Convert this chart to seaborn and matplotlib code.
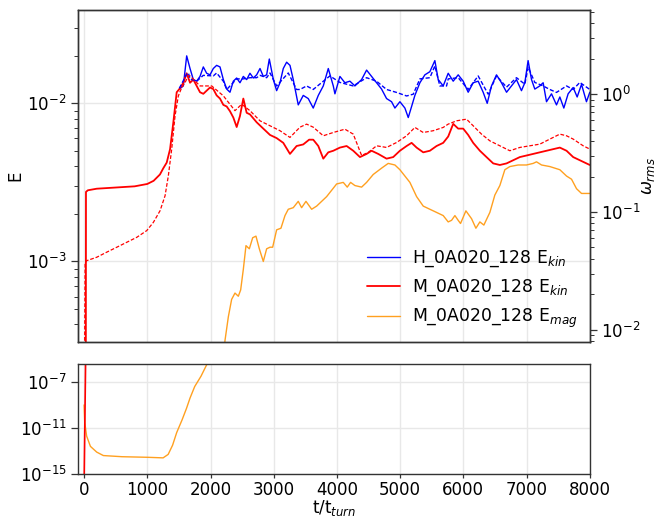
import numpy as np
import pandas as pd
import matplotlib
matplotlib.use("Agg")
import matplotlib.pyplot as plt
from matplotlib.ticker import LogLocator, FixedLocator, NullFormatter, NullLocator
import seaborn as sns

# ---- time series (log10 values) ----
# M_0A020_128 kinetic energy
t_mkin = [0, 30, 60, 200, 400, 600, 800, 1000, 1100, 1200, 1254, 1307, 1360, 1412,
          1465, 1507, 1570, 1623, 1676, 1728, 1781, 1834, 1886, 1939, 1992, 2044,
          2097, 2150, 2203, 2256, 2308, 2361, 2414, 2466, 2519, 2572, 2624, 2730,
          2835, 2941, 3046, 3151, 3257, 3362, 3467, 3560, 3625, 3705, 3784, 3863,
          3942, 4047, 4153, 4258, 4364, 4469, 4548, 4653, 4785, 4890, 4996, 5102,
          5181, 5260, 5365, 5470, 5576, 5681, 5760, 5839, 5918, 5997, 6076, 6155,
          6261, 6366, 6472, 6577, 6683, 6788, 6893, 6999, 7104, 7209, 7315, 7420,
          7526, 7632, 7737, 7842, 7947, 8000]
lg_mkin = [-16.0, -2.56, -2.55, -2.54, -2.535, -2.53, -2.525, -2.51, -2.49, -2.45,
           -2.41, -2.375, -2.29, -2.12, -1.93, -1.91, -1.87, -1.81, -1.87, -1.85,
           -1.89, -1.93, -1.94, -1.92, -1.90, -1.91, -1.95, -1.97, -2.01, -2.02,
           -2.05, -2.09, -2.15, -2.08, -1.97, -2.06, -2.07, -2.12, -2.16, -2.20,
           -2.22, -2.25, -2.32, -2.27, -2.26, -2.23, -2.23, -2.27, -2.35, -2.31,
           -2.30, -2.28, -2.27, -2.30, -2.34, -2.32, -2.30, -2.32, -2.35, -2.34,
           -2.30, -2.27, -2.25, -2.28, -2.31, -2.30, -2.27, -2.25, -2.21, -2.13,
           -2.16, -2.16, -2.20, -2.25, -2.30, -2.34, -2.38, -2.39, -2.38, -2.36,
           -2.34, -2.33, -2.32, -2.31, -2.30, -2.29, -2.28, -2.30, -2.34, -2.36,
           -2.38, -2.39]

# H_0A020_128 kinetic energy
t_hkin = [1507, 1570, 1623, 1676, 1728, 1781, 1834, 1886, 1939, 1992, 2044, 2097,
          2150, 2203, 2256, 2308, 2361, 2414, 2466, 2519, 2572, 2624, 2677, 2730,
          2783, 2835, 2888, 2930, 2994, 3046, 3099, 3151, 3204, 3257, 3309, 3388,
          3467, 3546, 3625, 3705, 3784, 3863, 3942, 3968, 4047, 4126, 4205, 4284,
          4390, 4469, 4548, 4627, 4706, 4785, 4864, 4917, 4996, 5075, 5128, 5181,
          5233, 5312, 5391, 5470, 5549, 5602, 5681, 5760, 5839, 5918, 5997, 6076,
          6155, 6234, 6313, 6377, 6445, 6524, 6603, 6683, 6761, 6840, 6919, 6972,
          7024, 7078, 7130, 7209, 7262, 7315, 7394, 7473, 7526, 7589, 7657, 7737,
          7800, 7869, 7947, 8000]
lg_hkin = [-1.91, -1.89, -1.70, -1.78, -1.85, -1.86, -1.83, -1.77, -1.81, -1.82,
           -1.78, -1.76, -1.77, -1.85, -1.91, -1.93, -1.86, -1.84, -1.87, -1.83,
           -1.85, -1.81, -1.84, -1.82, -1.78, -1.83, -1.82, -1.72, -1.85, -1.92,
           -1.87, -1.78, -1.74, -1.76, -1.85, -2.01, -1.95, -1.97, -2.03, -1.95,
           -1.89, -1.78, -1.89, -1.94, -1.83, -1.87, -1.86, -1.89, -1.85, -1.79,
           -1.83, -1.87, -1.91, -1.97, -1.99, -2.03, -1.99, -2.03, -2.09, -2.02,
           -1.95, -1.87, -1.82, -1.80, -1.73, -1.85, -1.89, -1.81, -1.86, -1.82,
           -1.86, -1.93, -1.87, -1.86, -1.93, -2.00, -1.89, -1.82, -1.87, -1.93,
           -1.89, -1.85, -1.92, -1.87, -1.73, -1.85, -1.91, -1.89, -1.87, -1.99,
           -1.94, -2.01, -1.96, -2.03, -1.94, -1.90, -1.96, -1.88, -1.99, -1.93]

# M_0A020_128 magnetic energy
t_mmag = [0, 10, 40, 100, 200, 305, 600, 1000, 1250, 1330, 1400, 1465, 1550, 1620,
          1676, 1750, 1850, 1940, 2050, 2150, 2229, 2282, 2334, 2387, 2440, 2477,
          2519, 2561, 2614, 2667, 2719, 2772, 2835, 2888, 2941, 2983, 3046, 3114,
          3178, 3230, 3309, 3388, 3441, 3510, 3600, 3679, 3758, 3837, 3916, 3995,
          4100, 4163, 4216, 4284, 4390, 4469, 4574, 4706, 4811, 4917, 4996, 5075,
          5154, 5260, 5365, 5470, 5576, 5681, 5760, 5813, 5866, 5918, 5955, 6040,
          6130, 6198, 6261, 6324, 6419, 6498, 6577, 6656, 6735, 6866, 6998, 7104,
          7157, 7236, 7368, 7526, 7632, 7711, 7790, 7869, 7974, 8000]
lg_mmag = [-9.0, -10.5, -11.7, -12.6, -13.1, -13.4, -13.5, -13.55, -13.6, -13.3,
           -12.5, -11.4, -10.3, -9.3, -8.4, -7.4, -6.5, -5.5, -4.6, -3.95, -3.50,
           -3.35, -3.24, -3.20, -3.22, -3.18, -3.05, -2.90, -2.92, -2.85, -2.84,
           -2.92, -3.00, -2.92, -2.91, -2.91, -2.80, -2.79, -2.71, -2.67, -2.66,
           -2.62, -2.66, -2.62, -2.67, -2.65, -2.62, -2.59, -2.55, -2.51, -2.50,
           -2.53, -2.50, -2.52, -2.53, -2.50, -2.45, -2.41, -2.38, -2.39, -2.42,
           -2.46, -2.50, -2.59, -2.65, -2.67, -2.69, -2.71, -2.75, -2.74, -2.71,
           -2.74, -2.76, -2.68, -2.73, -2.79, -2.75, -2.77, -2.69, -2.58, -2.52,
           -2.42, -2.40, -2.39, -2.39, -2.38, -2.37, -2.39, -2.40, -2.42, -2.46,
           -2.48, -2.54, -2.57, -2.57, -2.57]

# rms vorticity, H run
t_hw = [1507, 1623, 1650, 1676, 1781, 1886, 2044, 2097, 2203, 2256, 2414, 2519,
        2624, 2730, 2783, 2888, 2941, 3046, 3230, 3362, 3415, 3520, 3625, 3784,
        3889, 4047, 4258, 4469, 4627, 4785, 4943, 5102, 5207, 5312, 5470, 5549,
        5628, 5734, 5760, 5918, 6076, 6234, 6392, 6524, 6683, 6840, 6972, 7024,
        7130, 7262, 7368, 7473, 7632, 7737, 7842, 8000]
lg_hw = [0.05, 0.17, 0.18, 0.13, 0.11, 0.16, 0.155, 0.18, 0.11, 0.04, 0.13, 0.13,
         0.14, 0.14, 0.16, 0.14, 0.18, 0.07, 0.18, 0.04, 0.04, 0.07, 0.04, 0.11,
         0.155, 0.10, 0.07, 0.14, 0.11, 0.04, 0.015, -0.015, 0.0, 0.13, 0.14, 0.24,
         0.07, 0.07, 0.13, 0.14, 0.04, 0.155, 0.0, 0.155, 0.06, 0.14, 0.085, 0.23,
         0.10, 0.07, 0.04, 0.015, 0.07, 0.04, 0.10, 0.04]

# rms vorticity, M run
t_mw = [0, 16, 42, 200, 358, 517, 675, 833, 991, 1096, 1202, 1281, 1333, 1386,
        1439, 1491, 1544, 1597, 1649, 1676, 1834, 2019, 2203, 2387, 2493, 2624,
        2783, 2941, 3099, 3257, 3415, 3520, 3625, 3784, 3942, 4126, 4258, 4390,
        4495, 4627, 4785, 4943, 5102, 5233, 5365, 5523, 5681, 5760, 5892, 6050,
        6155, 6287, 6419, 6577, 6735, 6893, 7051, 7209, 7368, 7526, 7632, 7737,
        7895, 8000]
lg_mw = [-3.0, -1.43, -1.413, -1.384, -1.341, -1.299, -1.257, -1.215, -1.158,
         -1.088, -0.989, -0.862, -0.692, -0.466, -0.184, -0.015, 0.056, 0.099,
         0.155, 0.155, 0.07, 0.07, -0.014, -0.14, -0.085, -0.14, -0.226, -0.268,
         -0.31, -0.367, -0.28, -0.254, -0.28, -0.353, -0.325, -0.297, -0.339,
         -0.52, -0.494, -0.438, -0.452, -0.41, -0.353, -0.282, -0.325, -0.31,
         -0.282, -0.254, -0.226, -0.212, -0.268, -0.339, -0.396, -0.438, -0.48,
         -0.452, -0.438, -0.424, -0.381, -0.339, -0.353, -0.381, -0.438, -0.466]

x_ticks = [0, 1000, 2000, 3000, 4000, 5000, 6000, 7000, 8000]

BLUE = "#0000ff"
RED = "#ff0000"
ORANGE = "#ffa020"
FS = 12

sns.set_theme(style="whitegrid")
plt.rcParams["font.family"] = ["DejaVu Sans"]

def frame(t, lg):
    return pd.DataFrame({"t": t, "v": 10.0 ** np.asarray(lg)})

d_mkin = frame(t_mkin, lg_mkin)
d_hkin = frame(t_hkin, lg_hkin)
d_mmag = frame(t_mmag, lg_mmag)
d_hw = frame(t_hw, lg_hw)
d_mw = frame(t_mw, lg_mw)

fig = plt.figure(figsize=(6.59, 5.18), dpi=100)
ax = fig.add_axes([0.118, 0.340, 0.777, 0.641])
axb = fig.add_axes([0.118, 0.085, 0.777, 0.212], sharex=ax)
ax2 = ax.twinx()

for a in (ax, axb, ax2):
    for s in a.spines.values():
        s.set_color("#333333")
        s.set_linewidth(1.0)

ax.set_facecolor("white")
axb.set_facecolor("white")
ax2.set_facecolor("none")
ax.set_zorder(0)
ax2.set_zorder(1)

# energies, top panel
sns.lineplot(data=d_hkin, x="t", y="v", ax=ax, color=BLUE, lw=1.0,
             label="H_0A020_128 E$_{kin}$", legend=False)
sns.lineplot(data=d_mkin, x="t", y="v", ax=ax, color=RED, lw=1.3,
             label="M_0A020_128 E$_{kin}$", legend=False)
sns.lineplot(data=d_mmag, x="t", y="v", ax=ax, color=ORANGE, lw=1.0,
             label="M_0A020_128 E$_{mag}$", legend=False)

# vorticity on the right axis
sns.lineplot(data=d_hw, x="t", y="v", ax=ax2, color=BLUE, lw=1.0,
             linestyle=(0, (3, 1.5)), legend=False)
sns.lineplot(data=d_mw, x="t", y="v", ax=ax2, color=RED, lw=0.9,
             linestyle=(0, (3, 1.5)), legend=False)

# early evolution, bottom panel
sns.lineplot(data=d_mmag, x="t", y="v", ax=axb, color=ORANGE, lw=1.0, legend=False)
sns.lineplot(data=d_mkin, x="t", y="v", ax=axb, color=RED, lw=1.2, legend=False)

ax.set_yscale("log")
ax.set_ylim(3.1e-4, 3.9e-2)
ax2.set_yscale("log")
ax2.set_ylim(7.9e-3, 5.2)
axb.set_yscale("log")
axb.set_ylim(1e-15, 3.5e-6)
ax.set_xlim(-100, 8000)

ax.set_xticks(x_ticks)
axb.set_xticks(x_ticks)
ax.tick_params(axis="x", labelbottom=False, length=0)
axb.set_xticklabels([str(v) for v in x_ticks])

axb.yaxis.set_major_locator(FixedLocator([1e-15, 1e-11, 1e-7]))
axb.yaxis.set_minor_locator(NullLocator())

for a in (ax, ax2):
    a.yaxis.set_major_locator(LogLocator(base=10))
    a.yaxis.set_minor_locator(LogLocator(base=10, subs=np.arange(2, 10)))
    a.yaxis.set_minor_formatter(NullFormatter())

ax.tick_params(axis="y", which="major", left=True, length=5, width=0.9,
               color="#333333", labelsize=FS, labelcolor="black", pad=3)
ax.tick_params(axis="y", which="minor", left=True, length=3, width=0.7, color="#333333")
ax2.tick_params(axis="y", which="major", right=True, length=5, width=0.9,
                color="#333333", labelsize=FS, labelcolor="black", pad=3)
ax2.tick_params(axis="y", which="minor", right=True, length=3, width=0.7, color="#333333")
axb.tick_params(axis="y", which="major", left=True, length=5, width=0.9,
                color="#333333", labelsize=FS, labelcolor="black", pad=3)
axb.tick_params(axis="x", which="major", bottom=True, length=3, width=0.9,
                color="#333333", labelsize=FS, labelcolor="black", pad=2)

for a in (ax, axb):
    a.grid(True, which="major", color="#e8e8e8", lw=1.0)
    a.grid(False, which="minor")
ax2.grid(False)

ax.set_xlabel("")
ax.set_ylabel("E", fontsize=12, color="black")
ax.yaxis.set_label_coords(-0.104, 0.5)
ax2.set_ylabel(r"$\omega_{rms}$", fontsize=12, color="black")
ax2.yaxis.set_label_coords(1.096, 0.5)
axb.set_ylabel("")
axb.set_xlabel("t/t$_{turn}$", fontsize=12, color="black", labelpad=-1)

handles, labels = ax.get_legend_handles_labels()
leg = ax2.legend(handles, labels, loc="lower right", frameon=False, fontsize=12.4,
                 handlelength=1.9, handletextpad=0.7, labelspacing=0.5,
                 borderaxespad=0.3)
for txt in leg.get_texts():
    txt.set_color("black")

fig.savefig("out.png", dpi=100)
